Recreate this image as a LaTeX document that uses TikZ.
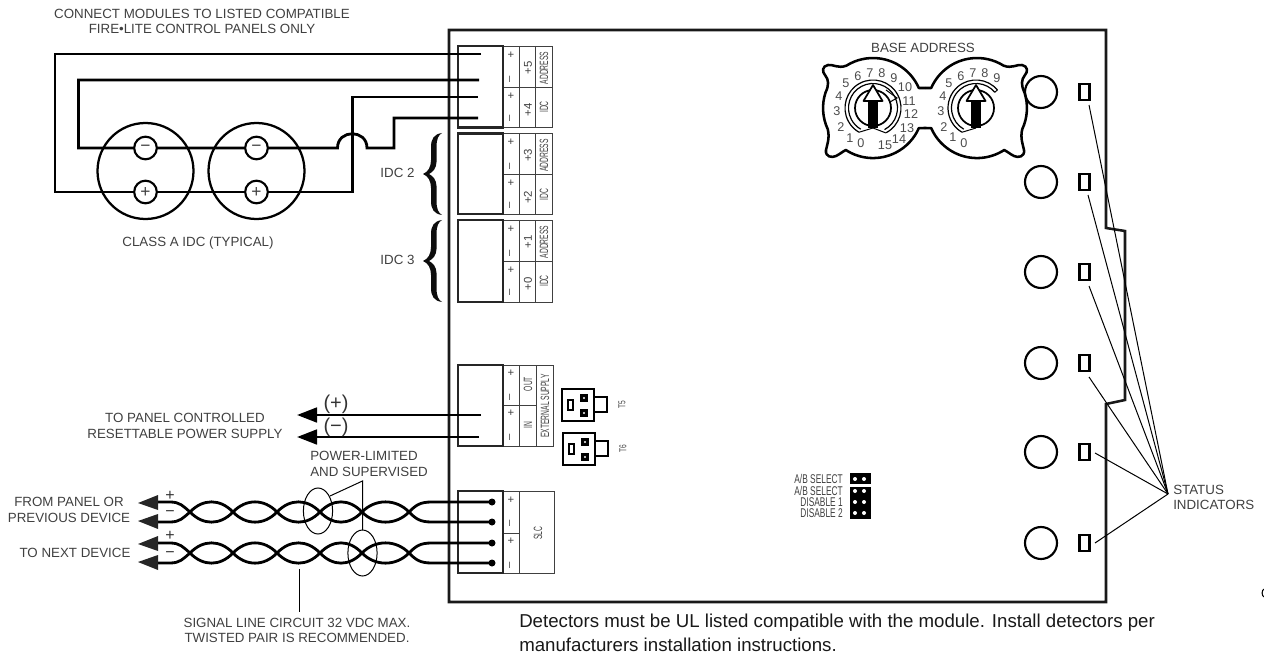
\documentclass[tikz,border=0pt]{standalone}
\usepackage{fontspec}
\setmainfont{Liberation Sans}
\newfontfamily\narrowfont[FakeStretch=0.66]{Liberation Sans}
\newfontfamily\slimfont[FakeStretch=0.56]{Liberation Sans}
\usetikzlibrary{arrows.meta}
\tikzset{
	lbl/.style={font=\fontsize{10}{11.8}\selectfont, text=black!75, inner sep=0pt, align=center},
	narrowlbl/.style={font=\fontsize{9}{10}\slimfont, text=black!75, inner sep=0pt},
	pollbl/.style={font=\fontsize{8.5}{9}\selectfont, text=black!75, inner sep=0pt},
	dialnum/.style={font=\fontsize{9.5}{10}\selectfont, text=black!70, inner sep=0pt},
	bigsign/.style={font=\fontsize{15}{15}\selectfont, text=black!80, inner sep=0pt},
	pairsign/.style={font=\fontsize{12}{12}\selectfont, text=black!80, inner sep=0pt},
	wire/.style={line width=2.1pt},
	thinline/.style={line width=0.75pt},
	cell/.style={line width=0.7pt, color=black!75},
	boxline/.style={line width=2.1pt, color=black!85},
	termcirc/.style={circle, draw, line width=1.6pt, fill=white, minimum size=17pt, inner sep=0pt, font=\fontsize{13}{13}\selectfont, text=black!75},
	supply/.style={wire, -{Triangle[length=15pt,width=11pt]}},
}
% three column terminal block, #1 = name, #2 = top, #3 = divider, #4 = bottom
\def\termframe#1#2#3#4#5{
	\draw[cell] (503, #2) rectangle (#5, #4);
	\draw[cell] (519, #2) -- (519, #4);
	\draw[cell] (503, #3) -- (519, #3);
}
\def\addrblock#1#2#3#4#5#6{
	\termframe{#1}{#2}{#3}{#4}{552}
	\draw[cell] (535, #2) -- (535, #4);
	\draw[cell] (519, #3) -- (552, #3);
	\draw[boxline] (458, #2) rectangle (503, #4);
	\node[pollbl] (#1a) at (511, #2+9) {+};
	\node[pollbl, rotate=90] (#1b) at (511, #2+33) {–};
	\node[pollbl] (#1c) at (511, #2+50) {+};
	\node[pollbl, rotate=90] (#1d) at (511, #2+72) {–};
	\node[pollbl, rotate=90] (#1e) at (528, #2+22) {#5};
	\node[pollbl, rotate=90] (#1f) at (528, #2+64) {#6};
	\node[narrowlbl, rotate=90] (#1g) at (544, #2+22) {ADDRESS};
	\node[narrowlbl, rotate=90] (#1h) at (544, #2+61) {IDC};
}
\def\bigbrace#1#2{
	\fill[black!95, shift={(#1, #2)}] (19, -41) .. controls (11, -40) and (8, -35) .. (8, -27) -- (8, -14)
		.. controls (8, -7) and (5, -2) .. (0, 0) .. controls (5, 2) and (8, 7) .. (8, 14) -- (8, 27)
		.. controls (8, 35) and (11, 40) .. (19, 41) .. controls (15.5, 39) and (13.5, 35) .. (13.5, 27) -- (13.5, 12)
		.. controls (13.5, 6) and (10, 2) .. (6, 0) .. controls (10, -2) and (13.5, -6) .. (13.5, -12) -- (13.5, -27)
		.. controls (13.5, -35) and (15.5, -39) .. (19, -41) -- cycle;
}
\def\jumper#1#2#3{
	\draw[line width=2pt] (#2, #3) rectangle ++(32, 32);
	\draw[line width=1.5pt] (#2+32, #3+8) rectangle ++(13, 15);
	\draw[line width=1pt] (#2+6, #3+11) rectangle ++(5, 10);
	\fill (#2+18, #3+5) rectangle ++(8, 8);
	\fill (#2+18, #3+20) rectangle ++(8, 8);
	\fill[white] (#2+22, #3+9) circle (1.2);
	\fill[white] (#2+22, #3+24) circle (1.2);
	\node[font=\fontsize{7.5}{8}\narrowfont, text=black!75, rotate=90, inner sep=0pt] (#1) at (#2+60, #3+16) {#1};
}
\def\twistpair#1{
	\foreach \xa/\xb in {190/233, 233/277, 277/320, 320/362, 362/409}{
		\draw[wire] (\xa, #1) .. controls (\xa+13, #1-13.5) and (\xb-13, #1-13.5) .. (\xb, #1);
		\draw[wire] (\xa, #1) .. controls (\xa+13, #1+13.5) and (\xb-13, #1+13.5) .. (\xb, #1);
	}
	\draw[wire] (190, #1) .. controls (183, #1-6) and (180, #1-10) .. (170, #1-10) -- (155, #1-10);
	\draw[wire] (190, #1) .. controls (183, #1+6) and (180, #1+10) .. (170, #1+10) -- (155, #1+10);
	\draw[wire] (409, #1) .. controls (416, #1-7) and (420, #1-10) .. (432, #1-10) -- (492, #1-10);
	\draw[wire] (409, #1) .. controls (416, #1+7) and (420, #1+10) .. (432, #1+10) -- (492, #1+10);
	\fill[black!85] (138, #1-9) -- (158, #1-17) -- (158, #1-2) -- cycle;
	\fill[black!85] (138, #1+9) -- (158, #1+2) -- (158, #1+17) -- cycle;
	\fill (492, #1-10) circle (3.5);
	\fill (492, #1+10) circle (3.5);
}
\def\switchhalf{
	\draw[line width=1.9pt, line join=round] (925, 88) -- (918.8, 88) arc[start angle=-23.6, end angle=-122, radius=50]
		.. controls (838, 69) and (833, 64) .. (828, 65) .. controls (822, 66) and (822, 72) .. (825, 75)
		.. controls (829, 80) and (829, 85) .. (825.5, 92.6) arc[start angle=-162, end angle=-205, radius=50]
		.. controls (830, 138) and (827, 145) .. (826, 150) .. controls (825, 157) and (832, 158) .. (836, 156)
		.. controls (840, 154) and (842, 152) .. (845.8, 150) arc[start angle=-237, end angle=-336.4, radius=50]
		-- (925, 128);
}
% dial with ring from #3 to #4 (screen angles)
\def\dial#1#2#3#4{
	\draw[line width=0.9pt] ({#1+28*cos(#3)}, {#2-28*sin(#3)}) arc[start angle=-#3, end angle=-#4, radius=28];
	\draw[line width=0.9pt] ({#1+24.5*cos(#3)}, {#2-24.5*sin(#3)}) arc[start angle=-#3, end angle=-#4, radius=24.5];
	\draw[line width=1.3pt] (#1, #2) circle (18);
	\fill (#1-5, 100) rectangle (#1+5, 128);
	\draw[line width=1.3pt, fill=white, line join=round] (#1, 85) -- (#1+9.5, 101) -- (#1-9.5, 101) -- cycle;
	\draw[thinline] ({#1+28*cos(#4)}, {#2-28*sin(#4)}) -- (#1, 128);
}

\begin{document}
\begin{tikzpicture}[x=0.75pt, y=-0.75pt]
	\useasboundingbox (0, 0) rectangle (1264, 656);
	%%%%% BOARD %%%%%
	\draw[line width=1.9pt, color=black!90, line join=miter] (449, 30) -- (1106, 30) -- (1106, 228) -- (1125, 231) -- (1125, 400) -- (1106, 404) -- (1106, 602) -- (449, 602) -- cycle;

	%%%%% TERMINALS %%%%%
	\addrblock{blka}{46}{87.5}{127.5}{+5}{+4}
	\addrblock{blkb}{133.5}{174}{214}{+3}{+2}
	\addrblock{blkc}{220}{261}{302}{+1}{+0}

	\termframe{blkd}{365}{405}{446}{553}
	\draw[cell] (536, 365) -- (536, 446);
	\draw[cell] (519, 405) -- (536, 405);
	\draw[boxline] (458, 365) rectangle (503, 446);
	\node[pollbl] (extp) at (511, 373) {+};
	\node[pollbl, rotate=90] (extm) at (511, 397) {–};
	\node[pollbl] (inp) at (511, 413) {+};
	\node[pollbl, rotate=90] (inm) at (511, 437) {–};
	\node[narrowlbl, rotate=90] (extout) at (528, 384) {OUT};
	\node[narrowlbl, rotate=90] (extin) at (528, 425) {IN};
	\node[narrowlbl, rotate=90] (extsup) at (545, 406) {EXTERNAL SUPPLY};

	\termframe{blke}{491}{533}{573}{554}
	\draw[boxline] (458, 491) rectangle (503, 573);
	\node[pollbl] (slcp) at (511, 500) {+};
	\node[pollbl, rotate=90] (slcm) at (511, 523) {–};
	\node[pollbl] (slcq) at (511, 541) {+};
	\node[pollbl, rotate=90] (slcn) at (511, 565) {–};
	\node[narrowlbl, rotate=90] (slc) at (538, 533) {SLC};

	%%%%% CLASS A WIRING %%%%%
	\draw[line width=1.7pt] (145.5, 171) circle (48);
	\draw[line width=1.7pt] (256.5, 171) circle (48);
	\draw[wire] (481, 54) -- (55, 54) -- (55, 192) -- (352.5, 192) -- (352.5, 97) -- (477.5, 97);
	\draw[wire] (479, 80) -- (78.5, 80) -- (78.5, 148) -- (337.5, 148) .. controls (337.5, 129) and (367, 129) .. (367, 148) -- (394, 148) -- (394, 118) -- (478, 118);
	\node[termcirc] (nega) at (145.5, 148) {−};
	\node[termcirc] (posa) at (145.5, 192) {+};
	\node[termcirc] (negb) at (256.5, 148) {−};
	\node[termcirc] (posb) at (256.5, 192) {+};

	\node[lbl] (connect) at (202, 21.5) {CONNECT MODULES TO LISTED COMPATIBLE\\FIRE•LITE CONTROL PANELS ONLY};
	\node[lbl] (classa) at (198, 243) {CLASS A IDC (TYPICAL)};
	\node[lbl] (idctwo) at (397.5, 173) {IDC 2};
	\node[lbl] (idcthree) at (397.5, 260) {IDC 3};
	\bigbrace{423}{174}
	\bigbrace{423}{261}

	%%%%% POWER SUPPLY %%%%%
	\coordinate (plusin) at (481, 415);
	\coordinate (plusout) at (297, 415);
	\coordinate (minusin) at (479, 437);
	\coordinate (minusout) at (297, 437);
	\draw[supply] (plusin) -- (plusout);
	\draw[supply] (minusin) -- (minusout);
	\node[bigsign] (plussign) at (336, 404.5) {(+)};
	\node[bigsign] (minussign) at (336, 427.5) {(−)};
	\node[lbl] (panel) at (185, 426) {TO PANEL CONTROLLED\\RESETTABLE POWER SUPPLY};
	\node[lbl, align=left, anchor=west] (limited) at (310, 464) {POWER-LIMITED\\AND SUPERVISED};

	\jumper{T5}{562}{389}
	\jumper{T6}{563}{433}

	%%%%% SIGNAL LINE %%%%%
	\twistpair{512}
	\twistpair{553}
	\node[pairsign] (sa) at (170, 496) {+};
	\node[pairsign] (sb) at (170, 514) {−};
	\node[pairsign] (sc) at (170, 536) {+};
	\node[pairsign] (sd) at (170, 555) {−};
	\node[lbl] (frompanel) at (69, 510) {FROM PANEL OR\\PREVIOUS DEVICE};
	\node[lbl] (tonext) at (75, 553) {TO NEXT DEVICE};

	\draw[thinline] (318, 511) ellipse (14.6 and 23);
	\draw[thinline] (362.5, 553) ellipse (14.6 and 23);
	\draw[thinline] (330, 496) -- (362.5, 481) -- (362.5, 530);
	\draw[thinline] (299, 569) -- (299, 612);
	\node[lbl] (signal) at (297, 630.5) {SIGNAL LINE CIRCUIT 32 VDC MAX.\\TWISTED PAIR IS RECOMMENDED.};
	\node[font=\fontsize{14}{18}\selectfont, text=black!90, inner sep=0pt, align=left, anchor=north west] (detect) at (519, 614) {Detectors must be UL listed compatible with the module. Install detectors per\\manufacturers installation instructions.};

	%%%%% ADDRESS SWITCHES %%%%%
	\node[lbl] (base) at (923, 48) {BASE ADDRESS};
	\switchhalf
	\begin{scope}[shift={(1850, 0)}, xscale=-1]
		\switchhalf
	\end{scope}
	\dial{873}{108}{-62}{240}
	\dial{976}{108}{40}{240}
	\draw[thinline] (873, 128) -- (886, 133);
	\draw[thinline] (886, 90) -- (897, 98) -- (890, 102);
	\draw[thinline] ({976+24.5*cos(40)}, {108-24.5*sin(40)}) -- ({976+28*cos(40)}, {108-28*sin(40)});
	\foreach \dx/\dy/\num in {861/143/0, 850/138/1, 841/127/2, 837/111/3, 839/96/4, 846/83/5, 858/76/6, 870/73/7, 882/73/8, 894/78/9, 905/87/10, 909/101/11, 911/114/12, 907/128/13, 899/139/14, 885/145/15}{
		\node[dialnum] (ldig\num) at (\dx, \dy) {\num};
	}
	\foreach \dx/\dy/\num in {964/143/0, 953/137/1, 944/127/2, 941/111/3, 943/96/4, 949/83/5, 961/76/6, 973/73/7, 985/73/8, 997/78/9}{
		\node[dialnum] (rdig\num) at (\dx, \dy) {\num};
	}

	%%%%% STATUS LEDS %%%%%
	\foreach \ledy in {92, 182, 272, 363, 452, 543}{
		\draw[line width=1.6pt] (1041, \ledy) circle (16);
		\draw[line width=1.8pt] (1079.5, \ledy-8) rectangle (1089.5, \ledy+8);
	}
	\coordinate (status) at (1168, 494);
	\draw[thinline] (1089, 105) -- (status);
	\draw[thinline] (1088, 195) -- (status);
	\draw[thinline] (1089, 286) -- (status);
	\draw[thinline] (1089, 377) -- (status);
	\draw[thinline] (1095, 453) -- (status);
	\draw[thinline] (1095, 543) -- (status);
	\node[lbl, align=left, anchor=west] (statuslbl) at (1173, 497.5) {STATUS\\INDICATORS};

	%%%%% OPTION JUMPERS %%%%%
	\fill (850, 473) rectangle (871, 484);
	\fill (850, 487) rectangle (871, 519);
	\foreach \ly/\txt in {479/A\slash B SELECT, 491/A\slash B SELECT, 502/DISABLE 1, 513/DISABLE 2}{
		\fill[white] (855, \ly) circle (2);
		\fill[white] (864, \ly) circle (2);
		\node[font=\fontsize{9.5}{10}\narrowfont, text=black!75, inner sep=0pt, anchor=east] (opt\ly) at (843, \ly) {\txt};
	}

	\draw[line width=0.8pt] (1264, 589) .. controls (1261.5, 590) and (1261.5, 596) .. (1264, 597);
\end{tikzpicture}
\end{document}
